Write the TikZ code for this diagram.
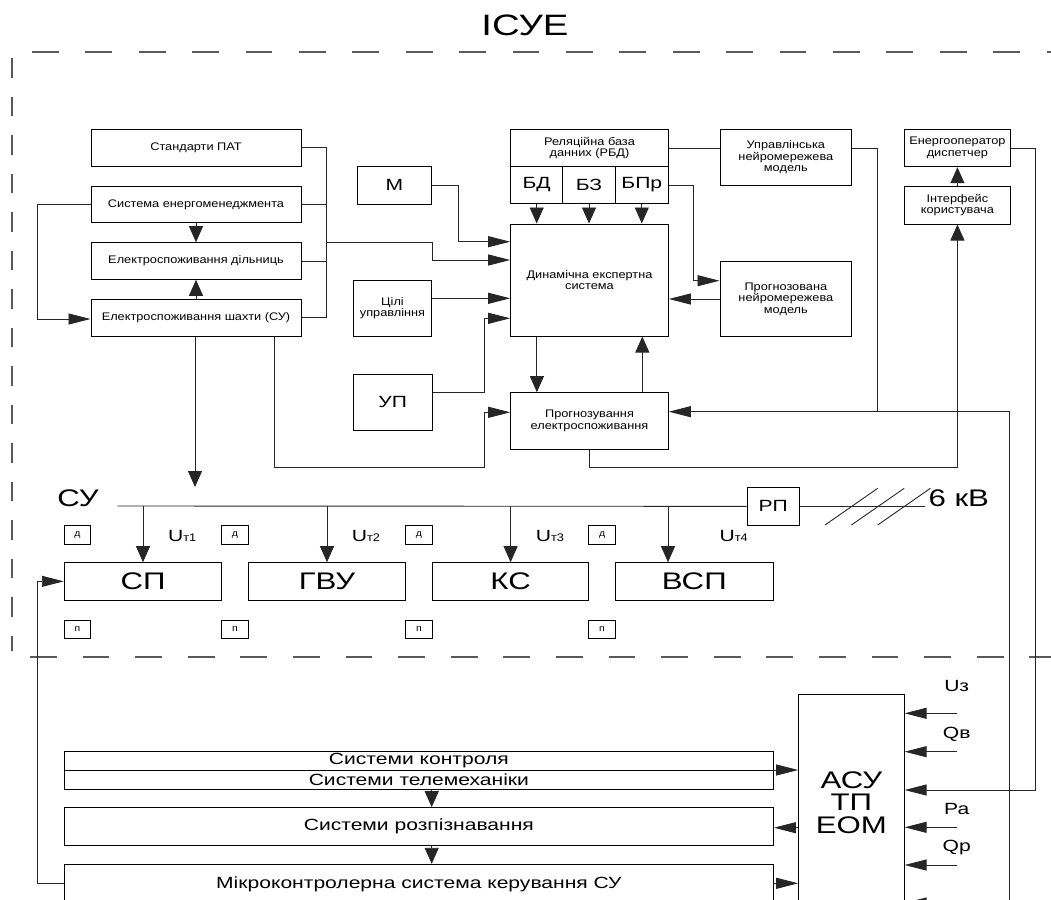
\documentclass[tikz,border=0pt]{standalone}
\usepackage{fontspec}
\setmainfont{Liberation Sans}
\newfontfamily\smf[FakeStretch=1.16]{Liberation Sans}
\newfontfamily\bgf[FakeStretch=1.3]{Liberation Sans}
\usetikzlibrary{arrows.meta}
\newcommand\mybox[7]{\node[box,#6,minimum width={#4-#2},minimum height={#5-#3}] (#1) at ({(#2+#4)/2},{(#3+#5)/2}) {#7};}
\tikzset{
 box/.style={draw=black, line width=1pt, inner sep=0pt, align=center},
 sm/.style={font=\smf\fontsize{11}{11.5}\selectfont},
 md/.style={font=\bgf\fontsize{16.2}{18}\selectfont},
 lg/.style={font=\bgf\fontsize{24}{22.5}\selectfont},
 tny/.style={font=\smf\fontsize{9}{9}\selectfont},
 con/.style={line width=0.9pt, draw=black!85},
 ha/.style={con, -{Triangle[length=22pt,width=11pt]}},
 va/.style={con, -{Triangle[length=16pt,width=14pt]}},
 frame/.style={line width=1.2pt, draw=black!65},
}
\begin{document}
\begin{tikzpicture}[x=1pt,y=-1pt]
\useasboundingbox (0,0) rectangle (1051,899);
% frame
\node[font=\bgf\fontsize{29.5}{30}\selectfont, anchor=base] (title) at (525,36) {ІСУЕ};
\draw[frame, dash pattern=on 26.7pt off 26.7pt] (32,52) -- (1070,52);
\draw[frame, dash pattern=on 19.5pt off 19pt] (12,58) -- (12,651);
\draw[frame, dash pattern=on 26.7pt off 25.9pt] (30,657) -- (1070,657);
% top-left blocks
\mybox{std}{91}{129.3}{301}{166}{sm}{Стандарти ПАТ}
\mybox{sem}{91}{186}{301}{222.7}{sm}{Система енергоменеджмента}
\mybox{eld}{91}{242.7}{301}{279.3}{sm}{Електроспоживання дільниць}
\mybox{elsh}{91}{299.3}{301}{336}{sm}{Електроспоживання шахти (СУ)}
\mybox{m}{357.3}{166.7}{431.7}{204}{md}{М}
\mybox{cil}{353.3}{280.7}{431.7}{336}{sm}{Цілі\\управління}
\mybox{up}{353.3}{374.3}{432}{430.5}{md}{УП}
\mybox{rbd}{510.7}{129.3}{668.3}{166.7}{sm}{Реляційна база\\данних (РБД)}
\mybox{bd}{510.7}{166.7}{562.7}{203.3}{md}{БД}
\mybox{bz}{562.7}{166.7}{615.3}{203.3}{md}{БЗ}
\mybox{bpr}{615.3}{166.7}{668.3}{203.3}{md}{БПр}
\mybox{des}{510.7}{224}{668.3}{336}{sm}{Динамічна експертна\\система}
\mybox{prog}{510.7}{392.7}{668.3}{449.3}{sm}{Прогнозування\\електроспоживання}
\mybox{upr}{720}{129.3}{851.7}{185.7}{sm}{Управлінська\\нейромережева\\модель}
\mybox{pnm}{720}{261.7}{851.7}{336}{sm}{Прогнозована\\нейромережева\\модель}
\mybox{eo}{904.3}{129.3}{1010.5}{166.7}{sm}{Енергооператор\\диспетчер}
\mybox{ui}{904.3}{186}{1010.5}{224}{sm}{Інтерфейс\\користувача}
% bus and loads
\mybox{rp}{747}{487.7}{799.4}{525}{md}{РП}
\mybox{sp}{64.3}{562.7}{221.7}{600}{lg}{СП}
\mybox{gvu}{248.3}{562.7}{405.7}{600}{lg}{ГВУ}
\mybox{ks}{432.3}{562.7}{588.9}{600}{lg}{КС}
\mybox{vsp}{615.2}{562.7}{773.4}{600}{lg}{ВСП}
\mybox{d1}{64.3}{525.7}{90.7}{544}{tny}{д}
\mybox{d2}{221.7}{525.7}{248.3}{544}{tny}{д}
\mybox{d3}{405.7}{525.7}{432.3}{544}{tny}{д}
\mybox{d4}{588.9}{525.7}{615.2}{544}{tny}{д}
\mybox{p1}{64.3}{620}{90.7}{638.3}{tny}{п}
\mybox{p2}{221.7}{620}{248.3}{638.3}{tny}{п}
\mybox{p3}{405.7}{620}{432.3}{638.3}{tny}{п}
\mybox{p4}{588.9}{620}{615.2}{638.3}{tny}{п}
\node[lg, anchor=base] (su) at (78,506) {СУ};
\node[lg, anchor=base west] (kv) at (925,506) {6 кВ};
\node[md, anchor=base] (u1) at (182.2,541) {U{\smf\fontsize{11}{11}\selectfont т1}};
\node[md, anchor=base] (u2) at (366,541) {U{\smf\fontsize{11}{11}\selectfont т2}};
\node[md, anchor=base] (u3) at (550,541) {U{\smf\fontsize{11}{11}\selectfont т3}};
\node[md, anchor=base] (u4) at (733.7,541) {U{\smf\fontsize{11}{11}\selectfont т4}};
% bottom blocks
\mybox{kon}{64.3}{751.7}{773.4}{770}{md}{Системи контроля}
\mybox{tel}{64.3}{770}{773.4}{789.3}{md}{Системи телемеханіки}
\mybox{roz}{64.3}{807.7}{773.4}{845}{md}{Системи розпізнавання}
\mybox{mk}{64.3}{864.3}{773.4}{930}{md}{}
\node[md] (mkt) at (418.9,884) {Мікроконтролерна система керування СУ};
\mybox{asu}{798.7}{694.3}{904.1}{940}{lg}{}
\node[lg, align=center] (asut) at (851.4,802.5) {АСУ\\ТП\\ЕОМ};
\node[md, anchor=base] (lu) at (956.7,691.7) {Uз};
\node[md, anchor=base] (lq) at (956.7,738.3) {Qв};
\node[md, anchor=base] (lp) at (956.7,814.3) {Ра};
\node[md, anchor=base] (lqp) at (956.7,851.7) {Qр};
% connectors: left group
\draw[con] (std.east) -- ++(25,0) coordinate (b1) -- (b1 |- elsh.east) -- (elsh.east);
\draw[con] (sem.east) -- (sem.east -| b1);
\draw[con] (eld.east) -- (eld.east -| b1);
\draw[ha] (b1 |- 0,242.5) -| (m.east |- 0,260) -- (des.west |- 0,260);
\draw[ha] (m.east) -| (458.3,241.7) -- (des.west |- 0,241.7);
\draw[ha] (cil.east |- 0,298.3) -- (des.west |- 0,298.3);
\draw[ha] (up.east |- 0,392.7) -| (484.3,318.3) -- (des.west |- 0,318.3);
\draw[ha] (elsh.south -| 274.3,0) -- (274.3,467.7) -| (484.3,412.3) -- (prog.west |- 0,412.3);
\coordinate (sutip) at (195,487);
\draw[va] (elsh.south -| sutip) -- (sutip);
\draw[ha] (sem.west) -- ++(-52.7,0) |- (elsh.west |- 0,319);
\draw[va] (sem.south) -- (eld.north);
\draw[va] (elsh.north) -- (eld.south);
% database / expert system
\draw[va] (bd.south) -- (des.north -| bd.south);
\draw[va] (bz.south) -- (des.north -| bz.south);
\draw[va] (bpr.south) -- (des.north -| bpr.south);
\draw[con] (rbd.east |- 0,148.3) -- (upr.west |- 0,148.3);
\draw[ha] (bpr.east) -| (693.3,280.7) -- (pnm.west |- 0,280.7);
\draw[ha] (pnm.west |- 0,299) -- (des.east |- 0,299);
\draw[va] (des.south -| 536.9,0) -- (prog.north -| 536.9,0);
\draw[va] (prog.north -| 642.3,0) -- (des.south -| 642.3,0);
\draw[con] (upr.east |- 0,148.3) -| (877.7,411.7);
\coordinate (bot) at (1009.5,905);
\draw[ha] (bot) -- (bot |- 0,411.7) -- (prog.east |- 0,411.7);
\draw[va] (prog.south -| 589.6,0) -- (589.6,467.7) -| (ui.south);
\draw[va] (ui.north) -- (eo.south);
\draw[ha] (eo.east |- 0,148.3) -| (1035.8,790) -- (asu.east |- 0,790);
% bus
\coordinate (busL) at (117.3,506);
\draw[con] (busL) -- (rp.west);
\draw[con] (rp.east) -- (kv.base west |- rp.east);
\draw[con] (825,525) -- (877.7,488.3);
\draw[con] (851.4,525) -- (904.2,488.3);
\draw[con] (877.7,525) -- (930.4,488.3);
\draw[va] (busL -| sp.north) -- (sp.north);
\draw[va] (busL -| gvu.north) -- (gvu.north);
\draw[va] (busL -| ks.north) -- (ks.north);
\draw[va] (busL -| 668,0) -- (vsp.north -| 668,0);
% bottom
\draw[ha] (mk.west |- 0,883.3) -- ++(-26,0) |- (sp.west);
\draw[ha] (tel.east |- 0,770) -- (asu.west |- 0,770);
\draw[ha] (asu.west |- 0,827.7) -- (roz.east |- 0,827.7);
\draw[ha] (mk.east |- 0,883.3) -- (asu.west |- 0,883.3);
\draw[va] (tel.south -| 431.7,0) -- (roz.north -| 431.7,0);
\draw[va] (roz.south -| 431.7,0) -- (mk.north -| 431.7,0);
\foreach \yy in {713.3,751.7,827.3,865,903}
  \draw[ha] (956.7,\yy) -- (asu.east |- 0,\yy);
\end{tikzpicture}
\end{document}
